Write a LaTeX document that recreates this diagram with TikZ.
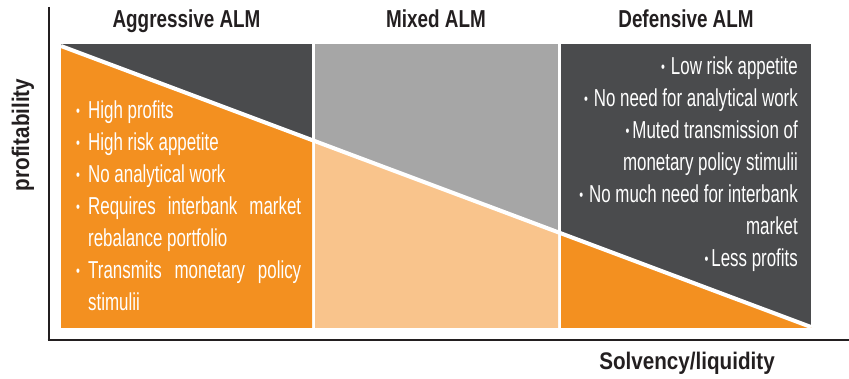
\documentclass[tikz,border=0pt]{standalone}
\usepackage{fontspec}
\setmainfont{Liberation Sans}
\newfontfamily\bodyf[FakeStretch=0.69]{Liberation Sans}
\newfontfamily\headf[FakeStretch=0.77]{Liberation Sans}
\newfontfamily\axisf[FakeStretch=0.86]{Liberation Sans}
\definecolor{darkc}{HTML}{4A4B4D}
\definecolor{grayc}{HTML}{A6A6A6}
\definecolor{orangec}{HTML}{F39020}
\definecolor{lightc}{HTML}{F9C48C}
\definecolor{axisc}{HTML}{231F20}
\newcommand{\bul}{{\fontsize{16}{16}\selectfont\raisebox{2pt}{•}}}
\tikzset{
  x=1pt, y=-1pt,
  head/.style={font=\headf\bfseries\fontsize{24.5}{28}\selectfont, text=axisc, inner sep=0pt, anchor=base},
  axislab/.style={font=\axisf\bfseries\fontsize{24}{28}\selectfont, text=axisc, inner sep=0pt},
  bodyl/.style={font=\bodyf\fontsize{24.5}{28}\selectfont, text=white, inner sep=0pt, anchor=base west},
  bodyr/.style={font=\bodyf\fontsize{24.5}{28}\selectfont, text=white, inner sep=0pt, anchor=base east},
}
\begin{document}
\begin{tikzpicture}
\useasboundingbox (0,0) rectangle (849,379);
% panels
\fill[darkc] (61,44) rectangle (312,328);
\fill[orangec] (61,46) -- (312,140) -- (312,328) -- (61,328) -- cycle;
\fill[grayc] (315,44) rectangle (558,328);
\fill[lightc] (315,141.2) -- (558,232.2) -- (558,328) -- (315,328) -- cycle;
\fill[darkc] (561,44) rectangle (811,328);
\fill[orangec] (561,233.3) -- (811,327) -- (811,328) -- (561,328) -- cycle;
\draw[white, line width=4pt] (61,46) -- (811,327);
% axes
\coordinate (top) at (49,7);
\coordinate (origin) at (49,340);
\coordinate (xend) at (849,340);
\draw[axisc, line width=2.6pt] (top) -- (origin);
\draw[axisc, line width=2.8pt] ([xshift=-1.3pt]origin) -- (xend);
% headings
\node[head] (h1) at (186.5,28) {Aggressive ALM};
\node[head] (h2) at (436,28) {Mixed ALM};
\node[head] (h3) at (686,28) {Defensive ALM};
% axis labels
\node[axislab, rotate=90] (ylab) at (23,135) {profitability};
\node[axislab, anchor=base] (xlab) at (687,370) {Solvency/liquidity};
% left list
\node[bodyl] (a1) at (76,119) {\makebox[12pt][l]{\bul}High profits};
\node[bodyl] (a2) at (76,151) {\makebox[12pt][l]{\bul}High risk appetite};
\node[bodyl] (a3) at (76,183) {\makebox[12pt][l]{\bul}No analytical work};
\node[bodyl] (a4) at (76,215) {\makebox[12pt][l]{\bul}\makebox[213pt][s]{Requires\hfill interbank\hfill market}};
\node[bodyl] (a5) at (88,247) {rebalance portfolio};
\node[bodyl] (a6) at (76,279) {\makebox[12pt][l]{\bul}\makebox[213pt][s]{Transmits\hfill monetary\hfill policy}};
\node[bodyl] (a7) at (88,311) {stimulii};
% right list
\node[bodyr] (b1) at (798,75) {\bul\hspace{6pt}Low risk appetite};
\node[bodyr] (b2) at (798,107) {\bul\hspace{6pt}No need for analytical work};
\node[bodyr] (b3) at (798,139) {\bul\hspace{3pt}Muted transmission of};
\node[bodyr] (b4) at (798,171) {monetary policy stimulii};
\node[bodyr] (b5) at (798,203) {\bul\hspace{6pt}No much need for interbank};
\node[bodyr] (b6) at (798,235) {market};
\node[bodyr] (b7) at (798,267) {\bul\hspace{3pt}Less profits};
\end{tikzpicture}
\end{document}
